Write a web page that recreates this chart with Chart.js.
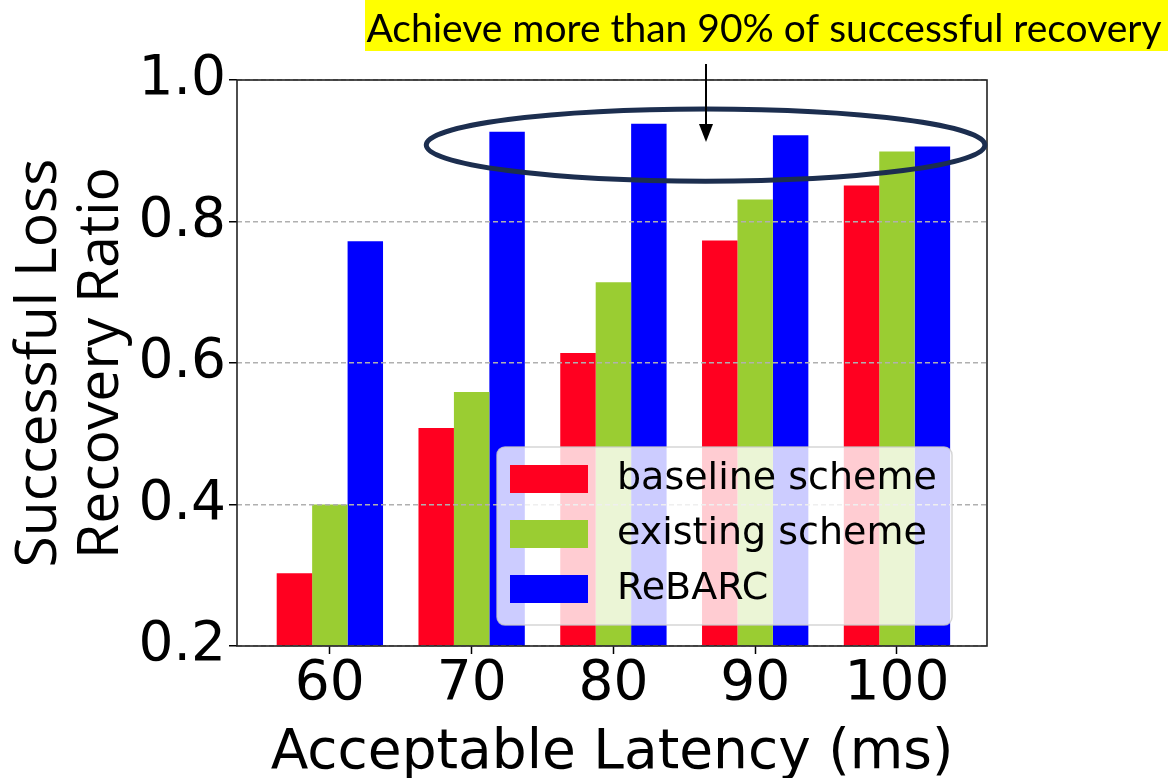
<!DOCTYPE html>
<html>
<head>
<meta charset="utf-8">
<script src="https://cdn.jsdelivr.net/npm/chart.js@4/dist/chart.umd.min.js"></script>
<style>
  html, body { margin: 0; padding: 0; background: #fff; }
  #wrap { width: 1170px; height: 778px; }
</style>
</head>
<body>
<div id="wrap"><canvas id="recoveryChart"></canvas></div>
<script>
// values
const latencyLabels = ["60", "70", "80", "90", "100"];
const baselineScheme = [0.303, 0.508, 0.614, 0.773, 0.851];
const existingScheme = [0.4, 0.559, 0.714, 0.831, 0.899];
const rebarc = [0.772, 0.927, 0.938, 0.922, 0.906];
const yTicks = [0.2, 0.4, 0.6, 0.8, 1.0];
const seriesNames = ["baseline scheme", "existing scheme", "ReBARC"];
const seriesColors = ["#ff0020", "#9acd32", "#0000ff"];
const noteText = "Achieve more than 90% of successful recovery";

const tickFont = { family: "DejaVu Sans", size: 55 };

function toPoints(values) {
  return values.map((v, i) => ({ x: i, y: v }));
}

// legend box inside the plot, lower right
const insideLegend = {
  id: "insideLegend",
  afterDraw(chart) {
    const ctx = chart.ctx;
    const area = chart.chartArea;
    const w = 455, h = 178;
    const x0 = area.right - 35 - w;
    const y0 = area.bottom - 21 - h;
    ctx.save();
    ctx.beginPath();
    ctx.roundRect(x0, y0, w, h, 8);
    ctx.fillStyle = "rgba(255,255,255,0.8)";
    ctx.fill();
    ctx.strokeStyle = "rgba(204,204,204,0.8)";
    ctx.lineWidth = 1.5;
    ctx.stroke();
    ctx.font = "38px 'DejaVu Sans'";
    ctx.textBaseline = "middle";
    chart.data.datasets.forEach((ds, i) => {
      const cy = y0 + 32 + i * 55;
      ctx.fillStyle = ds.backgroundColor;
      ctx.fillRect(x0 + 13, cy - 14, 78, 28);
      ctx.fillStyle = "#000";
      ctx.fillText(ds.label, x0 + 120, cy);
    });
    ctx.restore();
  },
};

// plot frame, the highlighted note, arrow and ellipse
const notes = {
  id: "notes",
  afterDraw(chart) {
    const ctx = chart.ctx;
    const area = chart.chartArea;
    const xs = chart.scales.x;
    const ys = chart.scales.y;
    ctx.save();
    ctx.strokeStyle = "#222";
    ctx.lineWidth = 1.6;
    ctx.strokeRect(area.left, area.top, area.right - area.left, area.bottom - area.top);

    // yellow note
    ctx.fillStyle = "#ffff00";
    ctx.fillRect(365, 0, 803, 51);
    ctx.fillStyle = "#000";
    ctx.font = "39px Lato";
    ctx.textBaseline = "alphabetic";
    ctx.textAlign = "center";
    ctx.fillText(noteText, 764, 42);

    // ellipse around the ReBARC bars
    const cx = xs.getPixelForValue(2.65);
    const cy = ys.getPixelForValue(0.908);
    const rx = xs.getPixelForValue(2.65 + 1.97) - cx;
    const ry = ys.getPixelForValue(0.908 - 0.051) - cy;
    ctx.beginPath();
    ctx.ellipse(cx, cy, rx, ry, 0, 0, Math.PI * 2);
    ctx.strokeStyle = "#1c2e4f";
    ctx.lineWidth = 5;
    ctx.stroke();

    // arrow
    const ax = 706;
    ctx.beginPath();
    ctx.moveTo(ax, 64);
    ctx.lineTo(ax, 128);
    ctx.strokeStyle = "#000";
    ctx.lineWidth = 2;
    ctx.stroke();
    ctx.beginPath();
    ctx.moveTo(ax - 7, 124);
    ctx.lineTo(ax + 7, 124);
    ctx.lineTo(ax, 142);
    ctx.closePath();
    ctx.fillStyle = "#000";
    ctx.fill();
    ctx.restore();
  },
};

const ctx = document.getElementById("recoveryChart").getContext("2d");
new Chart(ctx, {
  type: "bar",
  data: {
    datasets: [
      { label: seriesNames[0], data: toPoints(baselineScheme), backgroundColor: seriesColors[0] },
      { label: seriesNames[1], data: toPoints(existingScheme), backgroundColor: seriesColors[1] },
      { label: seriesNames[2], data: toPoints(rebarc), backgroundColor: seriesColors[2] },
    ],
  },
  options: {
    responsive: true,
    maintainAspectRatio: false,
    animation: false,
    categoryPercentage: 0.75,
    barPercentage: 1.0,
    layout: { padding: { top: 80, right: 183, left: 0, bottom: 0 } },
    plugins: {
      legend: { display: false },
      tooltip: { enabled: false },
    },
    scales: {
      x: {
        type: "linear",
        min: -0.655,
        max: 4.635,
        offset: false,
        afterBuildTicks(scale) {
          scale.ticks = latencyLabels.map((_, i) => ({ value: i }));
        },
        afterFit(scale) {
          scale.height = 132;
        },
        grid: {
          offset: false,
          drawOnChartArea: false,
          drawTicks: true,
          tickLength: 8,
          tickColor: "#000",
          tickWidth: 1.5,
        },
        border: { display: false },
        ticks: {
          color: "#000",
          font: tickFont,
          padding: -2,
          maxRotation: 0,
          autoSkip: false,
          callback: (v) => latencyLabels[v],
        },
        title: {
          display: true,
          text: "Acceptable Latency (ms)",
          color: "#000",
          font: tickFont,
          padding: { top: 0, bottom: -9 },
        },
      },
      y: {
        min: 0.2,
        max: 1.0,
        afterBuildTicks(scale) {
          scale.ticks = yTicks.map((v) => ({ value: v }));
        },
        afterFit(scale) {
          scale.width = 237;
        },
        grid: {
          color: "#b0b0b0",
          lineWidth: 1.5,
          z: 1,
          drawTicks: true,
          tickLength: 8,
          tickColor: "#000",
          tickWidth: 1.5,
          tickBorderDash: [],
        },
        border: { display: false, dash: [5, 3] },
        ticks: {
          color: "#000",
          font: tickFont,
          padding: 3,
          callback: (v) => v.toFixed(1),
        },
        title: {
          display: true,
          text: ["Successful Loss", "Recovery Ratio"],
          color: "#000",
          font: { family: "Open Sans", size: 57, lineHeight: 1.09 },
          padding: { top: 9, bottom: 0 },
        },
      },
    },
  },
  plugins: [insideLegend, notes],
});
</script>
</body>
</html>
